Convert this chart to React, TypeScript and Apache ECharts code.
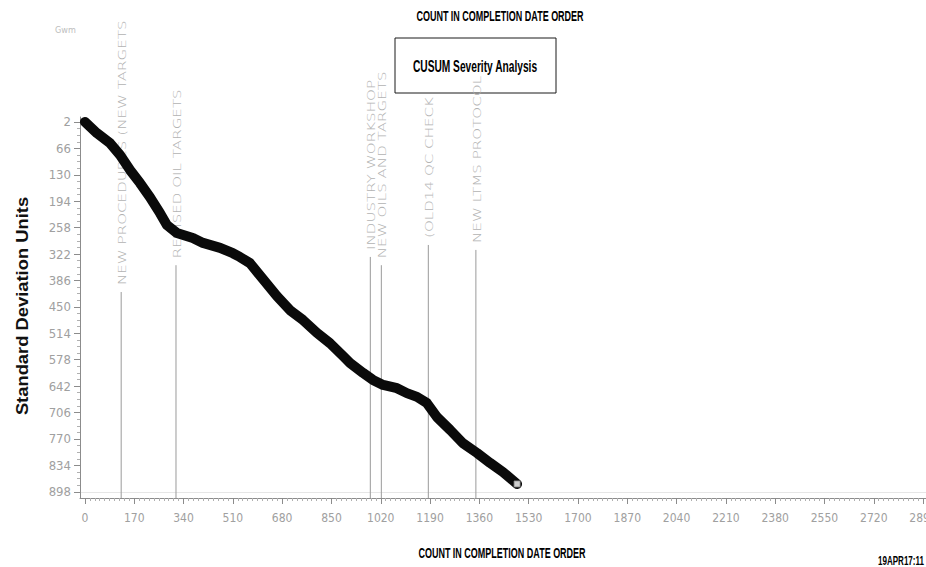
import { useEffect, useRef } from "react";
import * as echarts from "echarts";

// Axis ticks (labelled values)
const X_TICKS = [0, 170, 340, 510, 680, 850, 1020, 1190, 1360, 1530, 1700, 1870, 2040, 2210, 2380, 2550, 2720, 2890];
const Y_TICKS = [2, 66, 130, 194, 258, 322, 386, 450, 514, 578, 642, 706, 770, 834, 898];
const X_RANGE = [-17, 2900];
const Y_RANGE = [-10, 913];

// CUSUM trace: count in completion date order vs. cumulative standard deviation units
const COUNT = [0, 41, 86, 121, 155, 190, 224, 259, 283, 317, 372, 407, 466, 510, 534, 569, 614, 662, 707, 752, 800, 845, 890, 914, 959, 993, 1028, 1076, 1110, 1145, 1179, 1214, 1259, 1303, 1352, 1397, 1441, 1490];
const CUSUM = [2, 29, 53, 82, 118, 150, 184, 223, 252, 271, 283, 295, 307, 320, 329, 344, 383, 424, 458, 482, 513, 538, 569, 586, 610, 627, 639, 647, 659, 668, 683, 717, 748, 780, 804, 828, 850, 879];

// Annotated events
const EVENT_NAMES = [
  "NEW PROCEDURES (NEW TARGETS",
  "REVISED OIL TARGETS",
  "INDUSTRY WORKSHOP",
  "NEW OILS AND TARGETS",
  "(OLD14 QC CHECK",
  "NEW LTMS PROTOCOL",
];
const EVENT_COUNT = [125, 314, 984, 1022, 1184, 1348];
const EVENT_TOP = [414, 349, 329, 349, 300, 312];

const TITLE = "COUNT IN COMPLETION DATE ORDER";
const BOX_TITLE = "CUSUM Severity Analysis";
const Y_NAME = "Standard Deviation Units";
const STAMP = "19APR17:11";

const NARROW = "'Liberation Sans Narrow', 'DejaVu Sans Condensed', 'Arial Narrow', sans-serif";

function subdivide(ticks: number[], parts: number): number[] {
  const out: number[] = [];
  for (let i = 0; i < ticks.length - 1; i++) {
    const step = (ticks[i + 1] - ticks[i]) / parts;
    for (let k = 1; k < parts; k++) out.push(ticks[i] + step * k);
  }
  return out;
}

export default function App() {
  const ref = useRef<HTMLDivElement>(null);

  useEffect(() => {
    if (!ref.current) return;
    const chart = echarts.init(ref.current, undefined, { renderer: "svg" });

    const axisGrey = "#8c8c8c";
    const labelGrey = "#a0a0a0";
    const plain = (v: number) => String(v);

    chart.setOption({
      animation: false,
      backgroundColor: "#ffffff",
      grid: { left: 80, right: 0, top: 117, bottom: 69, containLabel: false, outerBoundsMode: "none" },
      xAxis: [
        {
          type: "value",
          min: X_RANGE[0],
          max: X_RANGE[1],
          axisLine: { show: true, onZero: false, lineStyle: { color: axisGrey, width: 1 } },
          axisTick: { show: true, customValues: X_TICKS, length: 6, lineStyle: { color: axisGrey } },
          axisLabel: {
            customValues: X_TICKS,
            formatter: plain,
            color: labelGrey,
            fontFamily: NARROW,
            fontSize: 12,
            margin: 14,
          },
          splitLine: { show: false },
        },
        {
          type: "value",
          min: X_RANGE[0],
          max: X_RANGE[1],
          position: "bottom",
          axisLine: { show: false, onZero: false },
          axisTick: { show: true, customValues: subdivide(X_TICKS, 10), length: 3, lineStyle: { color: "#b0b0b0" } },
          axisLabel: { show: false },
          splitLine: { show: false },
        },
      ],
      yAxis: [
        {
          type: "value",
          inverse: true,
          min: Y_RANGE[0],
          max: Y_RANGE[1],
          axisLine: { show: true, onZero: false, lineStyle: { color: axisGrey, width: 1 } },
          axisTick: { show: true, customValues: Y_TICKS, length: 6, lineStyle: { color: axisGrey } },
          axisLabel: {
            customValues: Y_TICKS,
            formatter: plain,
            color: labelGrey,
            fontFamily: NARROW,
            fontSize: 13,
            margin: 9,
          },
          splitLine: { show: false },
        },
        {
          type: "value",
          inverse: true,
          min: Y_RANGE[0],
          max: Y_RANGE[1],
          position: "left",
          axisLine: { show: false, onZero: false },
          axisTick: { show: true, customValues: subdivide(Y_TICKS, 4), length: 3, lineStyle: { color: "#b0b0b0" } },
          axisLabel: { show: false },
          splitLine: { show: false },
        },
      ],
      series: [
        ...EVENT_COUNT.map((x, i) => ({
          type: "line",
          silent: true,
          symbol: "none",
          z: 1,
          data: [
            [x, Y_RANGE[1]],
            [x, EVENT_TOP[i]],
          ],
          lineStyle: { color: "#9a9a9a", width: 1 },
        })),
        {
          type: "line",
          silent: true,
          symbol: "none",
          z: 3,
          data: COUNT.map((c, i) => [c, CUSUM[i]]),
          lineStyle: { color: "#0a0a0a", width: 10, cap: "round", join: "round" },
          markLine: {
            silent: true,
            symbol: "none",
            z: 0,
            label: { show: false },
            lineStyle: { color: "#e6e6e6", type: "solid", width: 1 },
            data: [{ yAxis: Y_TICKS[Y_TICKS.length - 1] }],
          },
        },
        {
          type: "scatter",
          silent: true,
          z: 4,
          symbol: "rect",
          symbolSize: 6,
          data: [[COUNT[COUNT.length - 1], CUSUM[CUSUM.length - 1]]],
          itemStyle: { color: "#ffffff", borderColor: "#8a8a8a", borderWidth: 1 },
        },
      ],
    });

    const toPx = (x: number, y: number) =>
      chart.convertToPixel({ xAxisIndex: 0, yAxisIndex: 0 }, [x, y]) as number[];

    const eventLabels = EVENT_NAMES.map((name, i) => {
      const [px, py] = toPx(EVENT_COUNT[i], EVENT_TOP[i]);
      return {
        type: "text",
        x: px + 1,
        y: py - 7,
        rotation: Math.PI / 2,
        scaleX: 1.26,
        scaleY: 0.9,
        z: 2,
        silent: true,
        style: {
          text: name,
          fill: "#b2b2b2",
          fontFamily: "'DejaVu Sans', sans-serif",
          fontWeight: 200,
          fontSize: 12,
          align: "left",
          verticalAlign: "middle",
        },
      };
    });

    chart.setOption({
      graphic: [
        {
          type: "rect",
          z: 0,
          silent: true,
          shape: { x: 395, y: 38, width: 161, height: 55 },
          style: { fill: "#ffffff", stroke: "#1a1a1a", lineWidth: 1 },
        },
        {
          type: "text",
          x: 475,
          y: 66,
          scaleX: 0.6,
          z: 0,
          silent: true,
          style: {
            text: BOX_TITLE,
            fill: "#000",
            fontFamily: "'Liberation Sans', Arial, sans-serif",
            fontWeight: "bold",
            fontSize: 17,
            align: "center",
            verticalAlign: "middle",
          },
        },
        ...eventLabels,
        {
          type: "text",
          x: 500,
          y: 16,
          scaleX: 0.6,
          silent: true,
          style: {
            text: TITLE,
            fill: "#000",
            fontFamily: "'Liberation Sans', Arial, sans-serif",
            fontWeight: "bold",
            fontSize: 15,
            align: "center",
            verticalAlign: "middle",
          },
        },
        {
          type: "text",
          x: 502,
          y: 553,
          scaleX: 0.6,
          silent: true,
          style: {
            text: TITLE,
            fill: "#000",
            fontFamily: "'Liberation Sans', Arial, sans-serif",
            fontWeight: "bold",
            fontSize: 15,
            align: "center",
            verticalAlign: "middle",
          },
        },
        {
          type: "text",
          x: 22,
          y: 306,
          rotation: Math.PI / 2,
          scaleX: 1.08,
          silent: true,
          style: {
            text: Y_NAME,
            fill: "#111",
            fontFamily: "'Liberation Sans', Arial, sans-serif",
            fontWeight: "bold",
            fontSize: 17,
            align: "center",
            verticalAlign: "middle",
          },
        },
        {
          type: "text",
          x: 878,
          y: 561,
          scaleX: 0.67,
          silent: true,
          style: {
            text: STAMP,
            fill: "#000",
            fontFamily: "'Liberation Sans', Arial, sans-serif",
            fontWeight: "bold",
            fontSize: 12,
            align: "left",
            verticalAlign: "middle",
          },
        },
        {
          type: "text",
          x: 55,
          y: 30,
          silent: true,
          style: {
            text: "Gwm",
            fill: "#bdbdbd",
            fontFamily: NARROW,
            fontSize: 9,
            align: "left",
            verticalAlign: "middle",
          },
        },
      ],
    });

    return () => chart.dispose();
  }, []);

  return (
    <div
      ref={ref}
      style={{ position: "absolute", left: 0, top: 0, width: 926, height: 567, background: "#fff" }}
    />
  );
}
